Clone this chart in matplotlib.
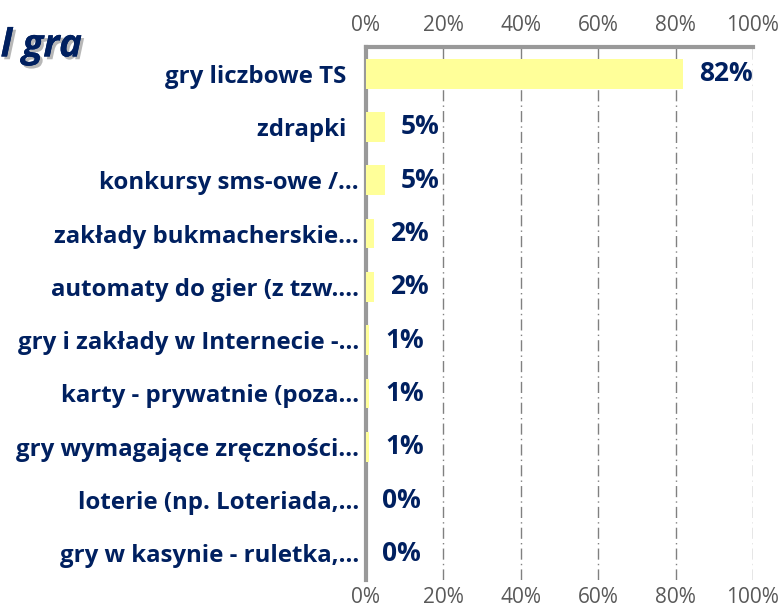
import matplotlib
matplotlib.use("Agg")
import matplotlib.pyplot as plt
import matplotlib.patheffects as pe

categories = ["gry liczbowe TS  ", "zdrapki  ", "konkursy sms-owe /…",
              "zakłady bukmacherskie…", "automaty do gier (z tzw.…",
              "gry i zakłady w Internecie -…", "karty - prywatnie (poza…",
              "gry wymagające zręczności…", "loterie (np. Loteriada,…",
              "gry w kasynie - ruletka,…"]
values = [82, 4.9, 4.9, 2, 2, 0.8, 0.8, 0.8, 0, 0]
value_labels = ["82%", "5%", "5%", "2%", "2%", "1%", "1%", "1%", "0%", "0%"]
ticks = [0, 20, 40, 60, 80, 100]
tick_labels = ["0%", "20%", "40%", "60%", "80%", "100%"]

navy = "#002060"
plt.rcParams['font.family'] = ['Open Sans', 'DejaVu Sans']

fig = plt.figure(figsize=(7.84, 6.13), dpi=100)
ax = fig.add_axes([366/784, 1-580/613, (753-366)/784, (580-47)/613])

y = list(range(len(categories)))
ax.barh(y, values, height=0.56, color="#FFFF99", zorder=3)
ax.set_ylim(len(categories)-0.5, -0.5)
ax.set_xlim(0, 100)

for yi, v, lab in zip(y, values, value_labels):
    ax.annotate(lab, (v, yi), xytext=(16, 0), textcoords="offset pixels",
                ha="left", va="center", fontsize=19, fontweight="bold", color=navy, zorder=4)

ax.set_yticks(y)
ax.set_yticklabels(categories, fontsize=17.3, fontweight="bold", color=navy)
ax.tick_params(axis="y", length=0, pad=5)

ax.set_xticks(ticks)
ax.set_xticklabels(tick_labels, fontsize=15, color="#595959")
ax.tick_params(axis="x", length=0, pad=5)

top = ax.secondary_xaxis("top")
top.set_xticks(ticks)
top.set_xticklabels(tick_labels, fontsize=15, color="#595959")
top.tick_params(axis="x", length=0, pad=8)
top.spines["top"].set_visible(False)

ax.xaxis.grid(True, color="#808080", linestyle=(0, (8, 3, 1, 3)), linewidth=1, zorder=1)
for s in ["right", "bottom"]:
    ax.spines[s].set_visible(False)
ax.spines["left"].set_color("#999999")
ax.spines["left"].set_linewidth(3)
ax.spines["top"].set_color("#999999")
ax.spines["top"].set_linewidth(3)

fig.text(82/784, 1-46/613, "l gra", fontsize=28, fontweight="bold", style="italic",
         color=navy, ha="right", va="center",
         path_effects=[pe.withSimplePatchShadow(offset=(2, -2), shadow_rgbFace="#888888", alpha=0.6), pe.Normal()])

fig.savefig("out.png", dpi=100)
